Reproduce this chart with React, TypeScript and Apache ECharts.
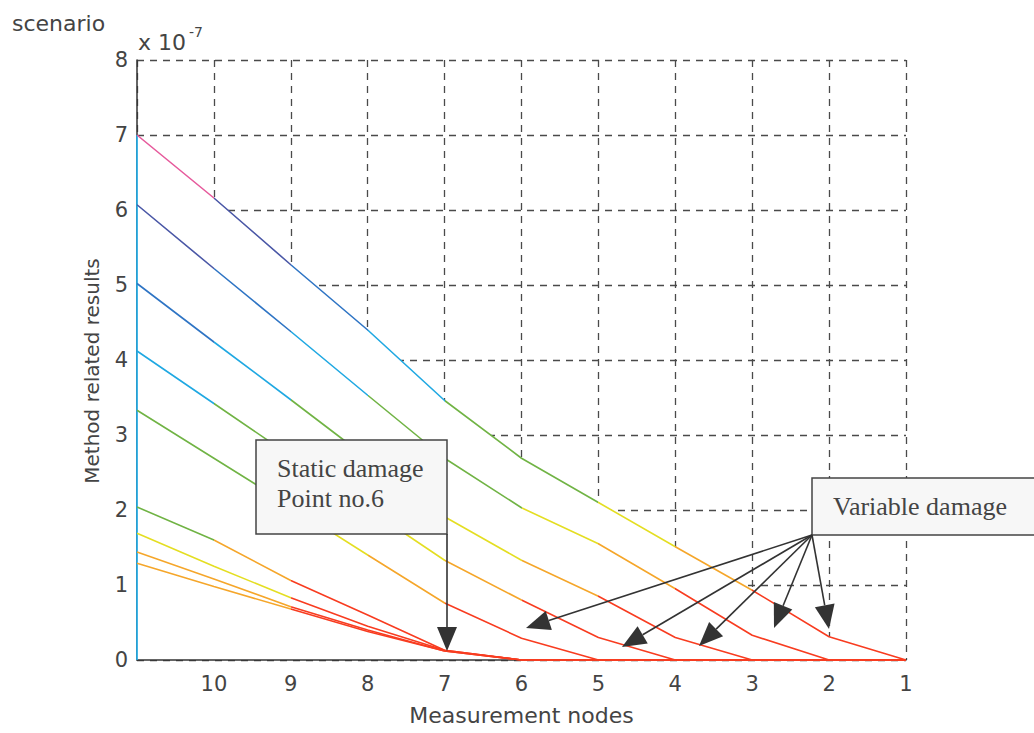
import React, { useEffect, useRef } from "react";
import * as echarts from "echarts";

// Measurement nodes (x, reversed axis: 11 at left, 1 at right)
const nodes = [11, 10, 9, 8, 7, 6, 5, 4, 3, 2, 1];

// Method related results (x 10^-7), one array per scenario line, values at nodes 11..1
const line1 = [7.0, 6.16, 5.27, 4.4, 3.46, 2.69, 2.1, 1.51, 0.93, 0.31, 0];
const line2 = [6.07, 5.22, 4.38, 3.53, 2.69, 2.03, 1.55, 0.95, 0.33, 0, 0];
const line3 = [5.02, 4.24, 3.47, 2.69, 1.91, 1.33, 0.85, 0.3, 0, 0, 0];
const line4 = [4.12, 3.42, 2.72, 2.02, 1.33, 0.8, 0.3, 0, 0, 0, 0];
const line5 = [3.33, 2.69, 2.05, 1.4, 0.76, 0.29, 0, 0, 0, 0, 0];
const line6 = [2.04, 1.6, 1.06, 0.6, 0.13, 0, 0, 0, 0, 0, 0];
const line7 = [1.69, 1.25, 0.83, 0.45, 0.13, 0, 0, 0, 0, 0, 0];
const line8 = [1.44, 1.08, 0.71, 0.4, 0.12, 0, 0, 0, 0, 0, 0];
const line9 = [1.29, 0.98, 0.68, 0.38, 0.12, 0, 0, 0, 0, 0, 0];
const lines = [line1, line2, line3, line4, line5, line6, line7, line8, line9];

// left edge of the surface at node 11
const edgeValues = [0, 7.0];

// segment colours (segment k runs from nodes[k] to nodes[k+1])
const P = "#e65a9c";
const DB = "#4a57a6";
const B = "#2e74c4";
const C = "#1fa8e2";
const G = "#70b344";
const Y = "#e4de22";
const O = "#f5a62a";
const R = "#f83c20";
const segColors = [
  [P, DB, B, C, G, G, Y, O, R, R],
  [DB, B, C, G, G, Y, O, R, R, R],
  [B, C, G, G, Y, O, R, R, R, R],
  [C, G, G, Y, O, R, R, R, R, R],
  [G, G, Y, O, R, R, R, R, R, R],
  [G, O, R, R, R, R, R, R, R, R],
  [Y, Y, R, R, R, R, R, R, R, R],
  [O, O, R, R, R, R, R, R, R, R],
  [O, O, R, R, R, R, R, R, R, R],
];

const SANS = '"DejaVu Sans", sans-serif';
const SERIF = '"Liberation Serif", "Times New Roman", serif';
const GRID_COLOR = "#4a4a4a";
const TEXT_COLOR = "#444";

function arrow(x1: number, y1: number, x2: number, y2: number, headLen = 24, headW = 10) {
  const dx = x2 - x1;
  const dy = y2 - y1;
  const len = Math.hypot(dx, dy);
  const ux = dx / len;
  const uy = dy / len;
  const bx = x2 - ux * headLen;
  const by = y2 - uy * headLen;
  const px = -uy;
  const py = ux;
  return [
    {
      type: "line",
      z: 100,
      shape: { x1, y1, x2: bx, y2: by },
      style: { stroke: "#333", lineWidth: 1.6 },
    },
    {
      type: "polygon",
      z: 100,
      shape: {
        points: [
          [x2, y2],
          [bx + px * headW, by + py * headW],
          [bx - px * headW, by - py * headW],
        ],
      },
      style: { fill: "#333" },
    },
  ];
}

function txt(text: string, x: number, y: number, font: string, align = "left", rotation = 0) {
  return {
    type: "text",
    z: 101,
    x,
    y,
    rotation,
    style: {
      text,
      x: 0,
      y: 0,
      font,
      fill: TEXT_COLOR,
      align,
      verticalAlign: "middle",
      textAlign: align,
      textVerticalAlign: "middle",
    },
  };
}

export default function App() {
  const ref = useRef<HTMLDivElement>(null);

  useEffect(() => {
    if (!ref.current) return;
    const chart = echarts.init(ref.current, undefined, { renderer: "svg" });

    const toPairs = (vals: number[]) => vals.map((v, i) => [nodes[i], v]);

    const visualMaps = lines.map((_, i) => ({
      type: "piecewise",
      show: false,
      dimension: 0,
      seriesIndex: i + 2,
      pieces: segColors[i].map((c, k) =>
        k === segColors[i].length - 1
          ? { gte: nodes[k + 1], lte: nodes[k], color: c }
          : { gt: nodes[k + 1], lte: nodes[k], color: c }
      ),
    }));

    const tips: [number, number][] = [
      [526, 628],
      [622, 647],
      [699, 646],
      [774, 628],
      [829, 629],
    ];
    const origin: [number, number] = [812, 535];

    const graphics: any[] = [
      txt("scenario", 12, 23, `22px ${SANS}`),
      txt("x 10", 138, 42, `22px ${SANS}`),
      txt("-7", 189, 32, `14px ${SANS}`),
      txt("Method related results", 92, 371, `20px ${SANS}`, "center", Math.PI / 2),
      // static damage box
      {
        type: "rect",
        z: 99,
        shape: { x: 256, y: 440, width: 191, height: 94 },
        style: { fill: "#f7f7f7", stroke: "#444", lineWidth: 1.5 },
      },
      txt("Static damage", 277, 468, `26px ${SERIF}`),
      txt("Point no.6", 277, 498, `26px ${SERIF}`),
      ...arrow(447, 534, 447, 651, 24, 10),
      // variable damage box
      {
        type: "rect",
        z: 99,
        shape: { x: 812, y: 478, width: 240, height: 57 },
        style: { fill: "#f7f7f7", stroke: "#444", lineWidth: 1.5 },
      },
      txt("Variable damage", 833, 506, `26px ${SERIF}`),
      ...tips.flatMap((t) => arrow(origin[0], origin[1], t[0], t[1])),
    ];

    const axisFont = { fontFamily: SANS, fontSize: 21, color: TEXT_COLOR };

    chart.setOption({
      animation: false,
      backgroundColor: "#ffffff",
      grid: { left: 137, top: 60, width: 769, height: 600, containLabel: false },
      xAxis: [
        {
          type: "value",
          min: 1,
          max: 11,
          interval: 1,
          inverse: true,
          z: 0,
          axisLine: { show: false },
          axisTick: { show: false },
          axisLabel: {
            ...axisFont,
            margin: 13,
            formatter: (v: number) => (v === 11 ? "" : String(v)),
          },
          splitLine: {
            show: true,
            lineStyle: { color: GRID_COLOR, type: [7, 6], width: 1.3 },
          },
          name: "Measurement nodes",
          nameLocation: "middle",
          nameGap: 44,
          nameTextStyle: { fontFamily: SANS, fontSize: 22, color: TEXT_COLOR },
        },
        {
          type: "value",
          min: 1,
          max: 11,
          interval: 1,
          inverse: true,
          position: "bottom",
          z: 2,
          axisLine: { show: true, onZero: false, lineStyle: { color: "#333", width: 1.5 } },
          axisTick: { show: false },
          axisLabel: { show: false },
          splitLine: { show: false },
        },
      ],
      yAxis: {
        type: "value",
        min: 0,
        max: 8,
        interval: 1,
        z: 0,
        axisLine: { show: true, lineStyle: { color: "#333", width: 1.5 } },
        axisTick: { show: false },
        axisLabel: { ...axisFont, margin: 9 },
        splitLine: {
          show: true,
          lineStyle: { color: GRID_COLOR, type: [7, 6], width: 1.3 },
        },
      },
      visualMap: visualMaps,
      series: [
        {
          type: "line",
          z: 1,
          silent: true,
          data: toPairs(line1),
          symbol: "none",
          lineStyle: { width: 0, opacity: 0 },
          areaStyle: { color: "#ffffff", opacity: 1 },
        },
        {
          type: "line",
          z: 3,
          silent: true,
          data: edgeValues.map((v) => [nodes[0], v]),
          symbol: "none",
          lineStyle: { width: 1.7, color: C },
        },
        ...lines.map((vals) => ({
          type: "line",
          z: 3,
          silent: true,
          data: toPairs(vals),
          symbol: "none",
          lineStyle: { width: 1.6 },
        })),
      ],
      graphic: graphics,
    });

    return () => chart.dispose();
  }, []);

  return (
    <div
      ref={ref}
      style={{ position: "fixed", left: 0, top: 0, width: 1034, height: 733, background: "#fff" }}
    />
  );
}
